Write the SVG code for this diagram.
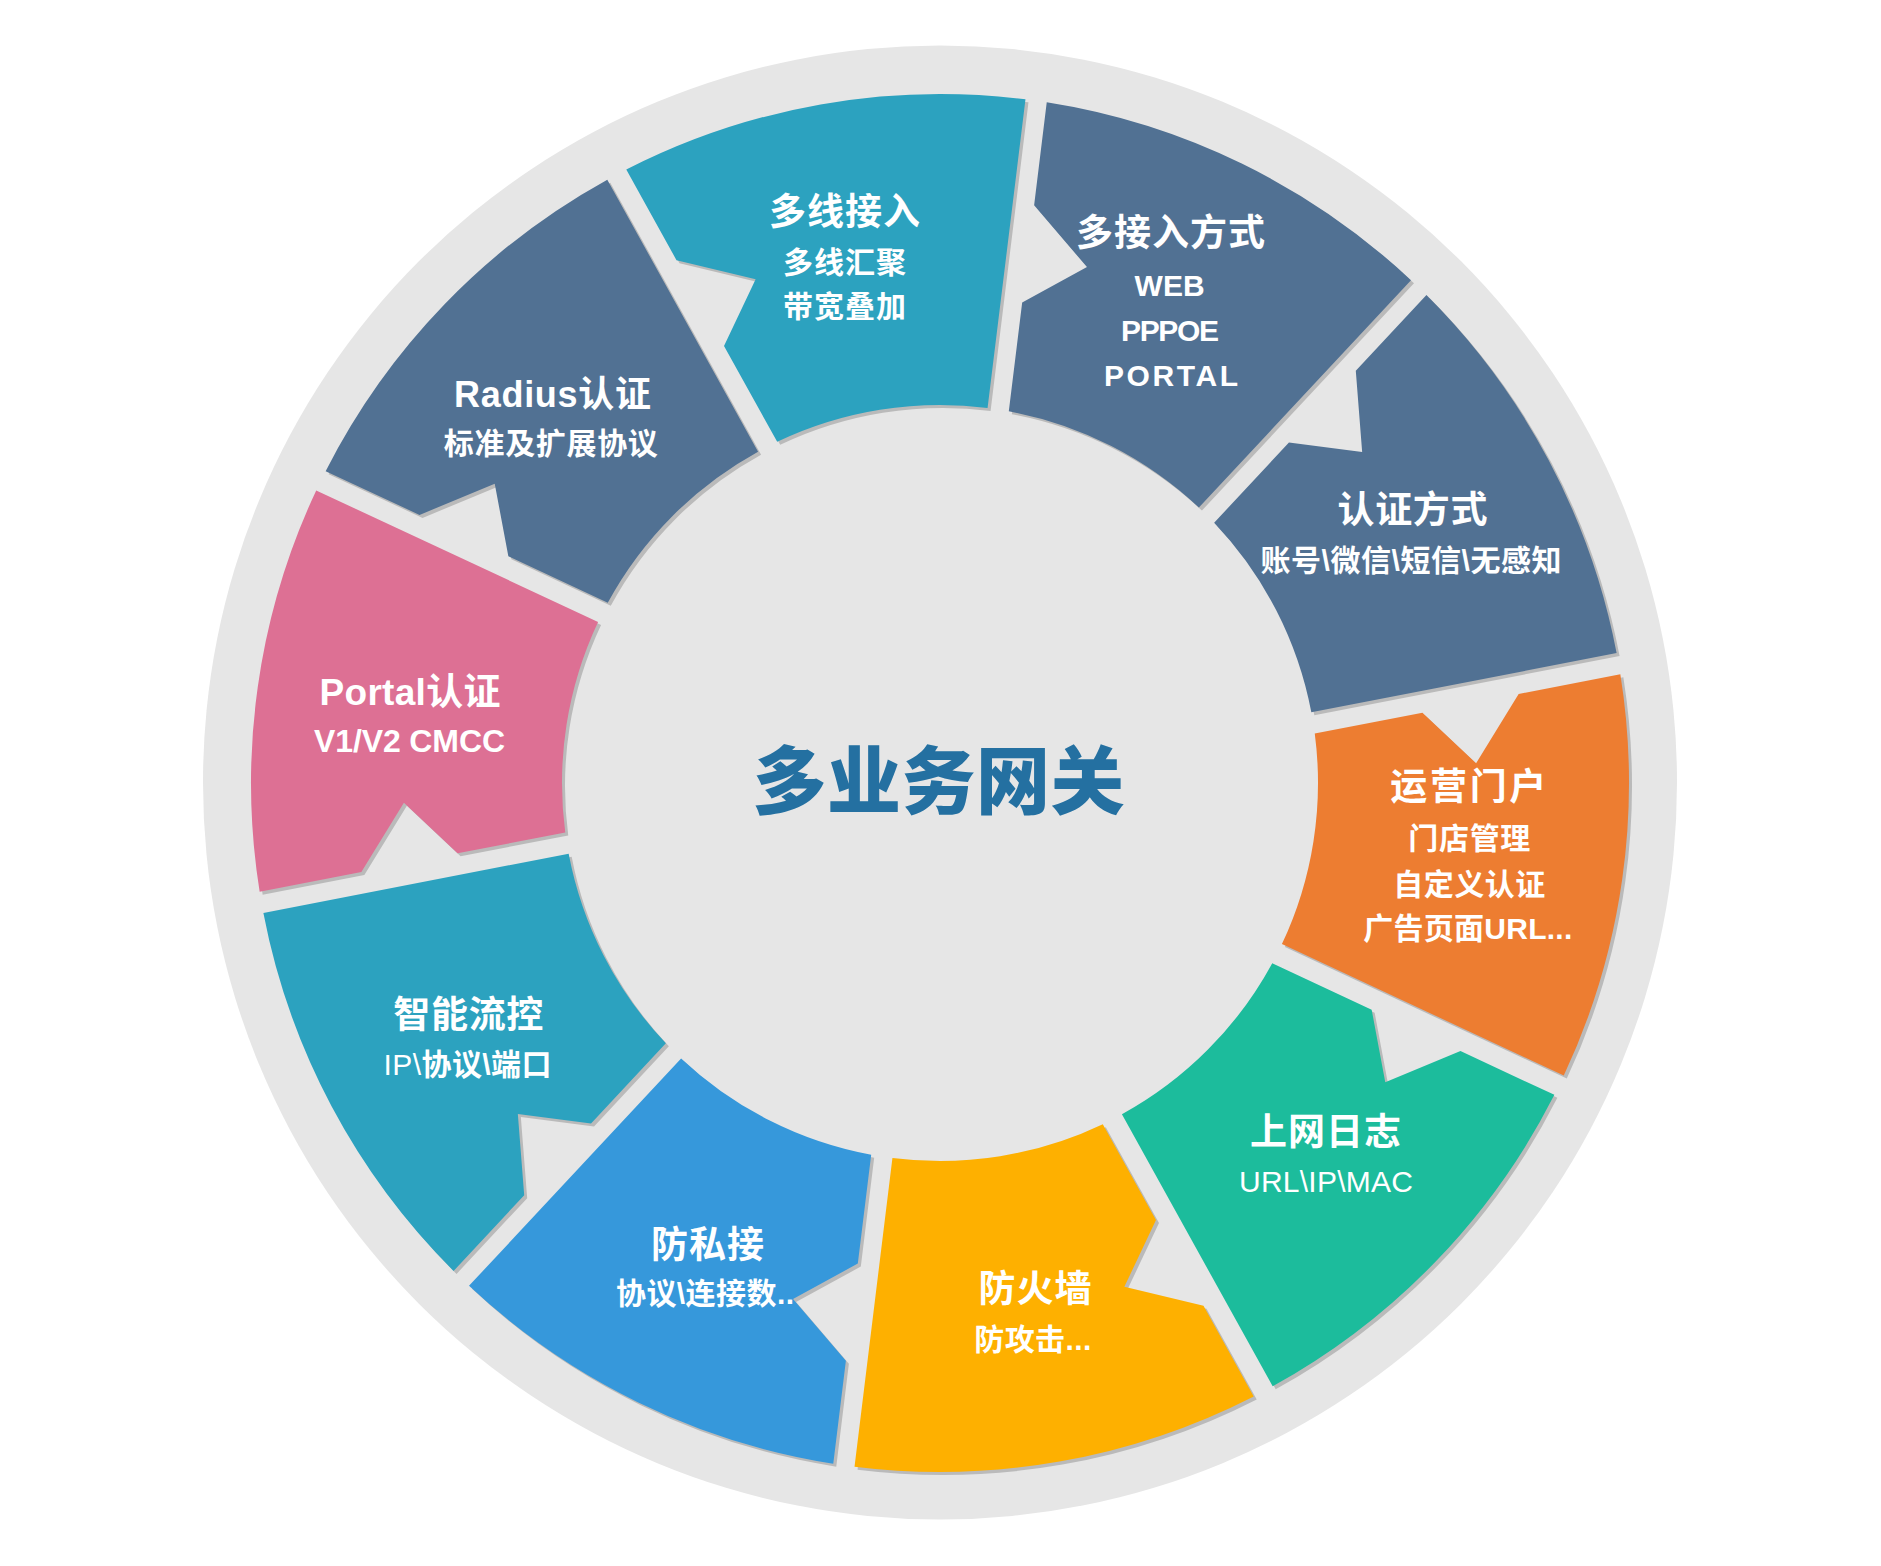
<svg xmlns="http://www.w3.org/2000/svg" width="1881" height="1566" viewBox="0 0 1881 1566">
<defs>
<style>
.t{fill:#ffffff;font-family:"Liberation Sans","Noto Sans CJK SC",sans-serif;font-weight:700;text-anchor:middle}
.h{font-size:37px}
.s{font-size:30px}
.r{font-weight:400}
.sh{fill:#bababa}
.title{fill:#2470a1;font-family:"Noto Sans CJK SC",sans-serif;font-weight:900;font-size:74px;text-anchor:middle}
</style>
<path id="seg" d="M23,-688.6 A689,689 0 0 1 406.2,-556.5 L223.4,-304.9 A378,378 0 0 0 23,-377.3 L23,-487 L83,-530 L23,-585 Z"/>
</defs>
<rect width="1881" height="1566" fill="#ffffff"/>
<circle id="ring" cx="940" cy="782.5" r="737" fill="#e6e6e6"/>

<g id="node-multi-access-mode">
<use href="#seg" class="sh" transform="translate(943 786) rotate(7)"/>
<use href="#seg" fill="#517193" transform="translate(940 783) rotate(7)"/>
<text class="t h" x="1170.4" y="246" textLength="189">多接入方式</text>
<text class="t s" x="1169.6" y="295.7" textLength="70">WEB</text>
<text class="t s" x="1170" y="340.7" textLength="98">PPPOE</text>
<text class="t s" x="1171" y="385.7" textLength="134">PORTAL</text>
</g>

<g id="node-auth-mode">
<use href="#seg" class="sh" transform="translate(943 786) rotate(43)"/>
<use href="#seg" fill="#517193" transform="translate(940 783) rotate(43)"/>
<text class="t h" x="1412.5" y="523" textLength="150">认证方式</text>
<text class="t s" x="1411" y="571.4" textLength="301">账号\微信\短信\无感知</text>
</g>

<g id="node-portal-ops">
<use href="#seg" class="sh" transform="translate(943 786) rotate(79)"/>
<use href="#seg" fill="#ed7d31" transform="translate(940 783) rotate(79)"/>
<text class="t h" x="1468.3" y="800" textLength="156">运营门户</text>
<text class="t s" x="1469.3" y="849" textLength="122">门店管理</text>
<text class="t s" x="1469.3" y="895.4" textLength="152">自定义认证</text>
<text class="t s" x="1467.8" y="939.2" textLength="209">广告页面URL...</text>
</g>

<g id="node-web-log">
<use href="#seg" class="sh" transform="translate(943 786) rotate(115)"/>
<use href="#seg" fill="#1cbc9c" transform="translate(940 783) rotate(115)"/>
<text class="t h" x="1325.5" y="1144.5" textLength="151">上网日志</text>
<text class="t s r" x="1326" y="1191.7" textLength="174">URL\IP\MAC</text>
</g>

<g id="node-firewall">
<use href="#seg" class="sh" transform="translate(943 786) rotate(151)"/>
<use href="#seg" fill="#feb000" transform="translate(940 783) rotate(151)"/>
<text class="t h" x="1035" y="1302" textLength="113">防火墙</text>
<text class="t s" x="1032.8" y="1349.7" textLength="117">防攻击...</text>
</g>

<g id="node-anti-share">
<use href="#seg" class="sh" transform="translate(943 786) rotate(187)"/>
<use href="#seg" fill="#3698db" transform="translate(940 783) rotate(187)"/>
<text class="t h" x="707.5" y="1257.7" textLength="113">防私接</text>
<text class="t s" x="705" y="1304.4" textLength="178">协议\连接数..</text>
</g>

<g id="node-flow-control">
<use href="#seg" class="sh" transform="translate(943 786) rotate(223)"/>
<use href="#seg" fill="#2ca2bf" transform="translate(940 783) rotate(223)"/>
<text class="t h" x="468.3" y="1028" textLength="150">智能流控</text>
<text class="t s" x="467.5" y="1075" textLength="168"><tspan class="r">IP\</tspan>协议\端口</text>
</g>

<g id="node-portal-auth">
<use href="#seg" class="sh" transform="translate(943 786) rotate(259)"/>
<use href="#seg" fill="#dd7094" transform="translate(940 783) rotate(259)"/>
<text class="t" style="font-size:37px" x="410" y="704.5" textLength="181">Portal认证</text>
<text class="t" style="font-size:32px" x="409.5" y="751.7" textLength="191">V1/V2 CMCC</text>
</g>

<g id="node-radius">
<use href="#seg" class="sh" transform="translate(943 786) rotate(295)"/>
<use href="#seg" fill="#517193" transform="translate(940 783) rotate(295)"/>
<text class="t" style="font-size:36px" x="552.5" y="407" textLength="197">Radius认证</text>
<text class="t s" x="550.8" y="454" textLength="214">标准及扩展协议</text>
</g>

<g id="node-multi-line">
<use href="#seg" class="sh" transform="translate(943 786) rotate(331)"/>
<use href="#seg" fill="#2ca2bf" transform="translate(940 783) rotate(331)"/>
<text class="t h" x="844.5" y="225" textLength="151">多线接入</text>
<text class="t s" x="844.5" y="273.2" textLength="123">多线汇聚</text>
<text class="t s" x="844.5" y="317.4" textLength="123">带宽叠加</text>
</g>

<g id="center">
<text class="title" x="938.5" y="808" textLength="372">多业务网关</text>
</g>
<g id="connectors"/>
</svg>
